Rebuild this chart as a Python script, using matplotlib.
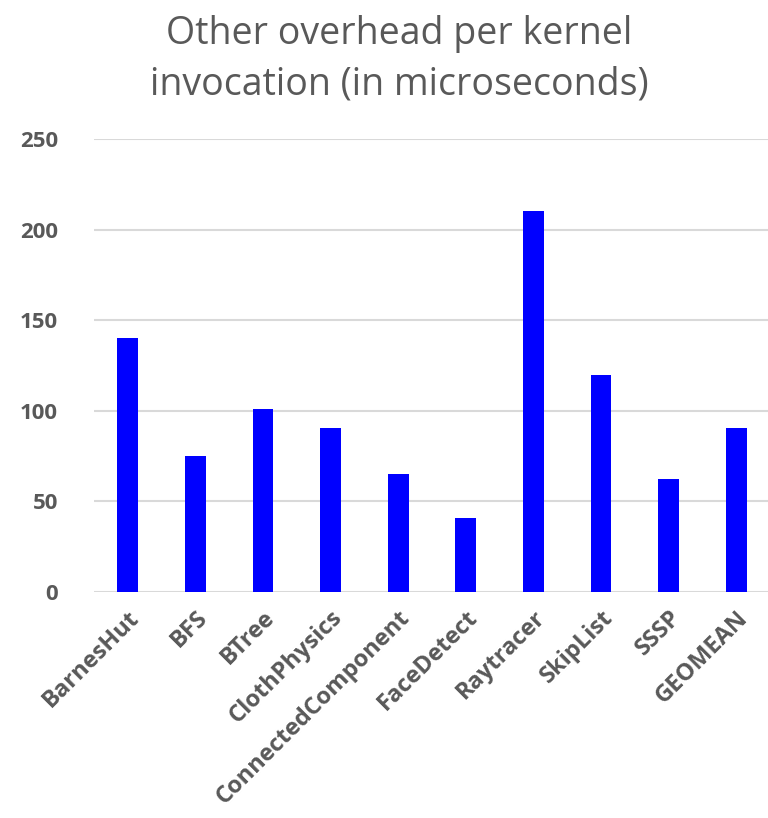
import matplotlib.pyplot as plt
import numpy as np

benchmarks = ['BarnesHut', 'BFS', 'BTree', 'ClothPhysics', 'ConnectedComponent',
              'FaceDetect', 'Raytracer', 'SkipList', 'SSSP', 'GEOMEAN']
overhead_us = [140, 75, 101, 90.5, 65, 41, 210, 120, 62.5, 90.5]
yticks = [0, 50, 100, 150, 200, 250]

plt.rcParams['font.family'] = ['Open Sans', 'DejaVu Sans']
grey = '#595959'

fig = plt.figure(figsize=(7.68, 8.18), dpi=100)
ax = fig.add_axes([94 / 768, 1 - 592 / 818, 676 / 768, 453 / 818])

x = np.arange(len(benchmarks))
ax.bar(x, overhead_us, width=0.31, color='#0000ff', zorder=3)

ax.set_xlim(-0.5, len(benchmarks) - 0.5)
ax.set_ylim(0, 250)
ax.set_yticks(yticks)
ax.set_yticklabels([str(v) for v in yticks], fontsize=16, fontweight='bold', color=grey)
ax.yaxis.grid(True, color='#d9d9d9', linewidth=1.5, zorder=0)
ax.tick_params(axis='both', length=0)
ax.tick_params(axis='y', pad=26)

ax.set_xticks(x)
ax.set_xticklabels(benchmarks, rotation=45, ha='right', rotation_mode='anchor',
                   fontsize=17, fontweight='bold', color=grey)
ax.tick_params(axis='x', pad=10)

for s in ax.spines.values():
    s.set_visible(False)

fig.text(0.52, 0.982, 'Other overhead per kernel\ninvocation (in microseconds)',
         ha='center', va='top', fontsize=27, color=grey, linespacing=1.45)

fig.savefig('out.png', dpi=100, facecolor='white')
